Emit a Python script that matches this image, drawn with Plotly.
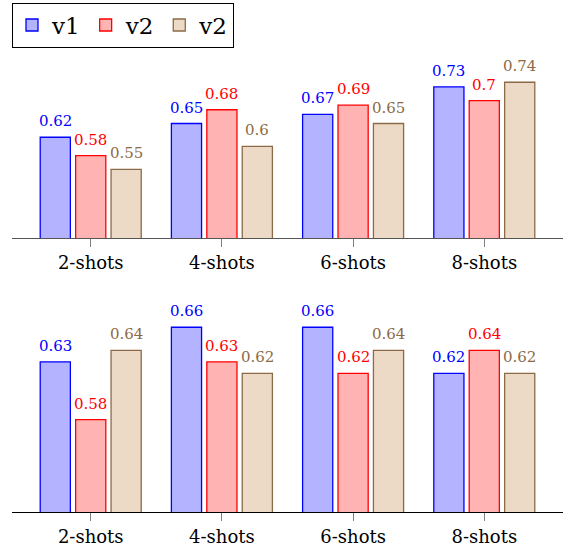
import plotly.graph_objects as go

# Data
categories = ["2-shots", "4-shots", "6-shots", "8-shots"]
series_names = ["v1", "v2", "v2"]
top_values = [
    [0.62, 0.65, 0.67, 0.73],
    [0.58, 0.68, 0.69, 0.70],
    [0.55, 0.60, 0.65, 0.74],
]
bottom_values = [
    [0.63, 0.66, 0.66, 0.62],
    [0.58, 0.63, 0.62, 0.64],
    [0.64, 0.62, 0.64, 0.62],
]

# Styles (pgfplots-like: color!30 fill, full color edge)
fills = ["#b3b3ff", "#ffb3b3", "#ecd9c6"]
edges = ["#0000ff", "#ff0000", "#8c6a46"]
bar_width = 0.23
offsets = [-0.385, -0.115, 0.155]
xpos = list(range(len(categories)))

SERIF = "DejaVu Serif, serif"

fig = go.Figure()
annotations = []

for panel, values in enumerate([top_values, bottom_values]):
    xa = "x" if panel == 0 else "x2"
    ya = "y" if panel == 0 else "y2"
    for i, vals in enumerate(values):
        fig.add_trace(
            go.Bar(
                x=xpos,
                y=vals,
                base=0,
                width=bar_width,
                offset=offsets[i],
                name=series_names[i],
                legendgroup=f"s{i}",
                showlegend=(panel == 0),
                marker=dict(color=fills[i], line=dict(color=edges[i], width=1.3)),
                xaxis=xa,
                yaxis=ya,
            )
        )
        # nodes near coords
        for j, v in enumerate(vals):
            annotations.append(
                dict(
                    x=xpos[j] + offsets[i] + bar_width / 2,
                    y=v,
                    xref=xa,
                    yref=ya,
                    text=f"{v:g}",
                    showarrow=False,
                    xanchor="center",
                    yanchor="bottom",
                    yshift=5,
                    font=dict(family=SERIF, size=15, color=edges[i]),
                )
            )

xaxis_common = dict(
    range=[-0.6, 3.6],
    tickmode="array",
    tickvals=xpos,
    ticktext=categories,
    showline=True,
    linewidth=1.3,
    ticks="outside",
    ticklen=8,
    tickcolor="#808080",
    tickwidth=1,
    showgrid=False,
    zeroline=False,
    tickfont=dict(family=SERIF, size=18, color="black"),
)
yaxis_common = dict(
    showline=False,
    showgrid=False,
    zeroline=False,
    showticklabels=False,
    ticks="",
)

fig.update_layout(
    width=564,
    height=548,
    margin=dict(l=12, r=1, t=0, b=36),
    paper_bgcolor="white",
    plot_bgcolor="white",
    barmode="overlay",
    xaxis=dict(xaxis_common, domain=[0, 1], anchor="y", linecolor="#555555"),
    yaxis=dict(yaxis_common, domain=[0.535, 0.893], range=[0.4, 0.8]),
    xaxis2=dict(xaxis_common, domain=[0, 1], anchor="y2", linecolor="black"),
    yaxis2=dict(yaxis_common, domain=[0, 0.406], range=[0.5, 0.68]),
    annotations=annotations,
    legend=dict(
        orientation="h",
        x=0,
        y=0.995,
        xanchor="left",
        yanchor="top",
        bordercolor="black",
        borderwidth=1,
        font=dict(family=SERIF, size=23, color="black"),
        itemwidth=30,
        tracegroupgap=0,
    ),
    showlegend=True,
)

fig.write_html(
    "out.html",
    config={"displayModeBar": False},
    post_script="document.body.style.margin='0';",
)
